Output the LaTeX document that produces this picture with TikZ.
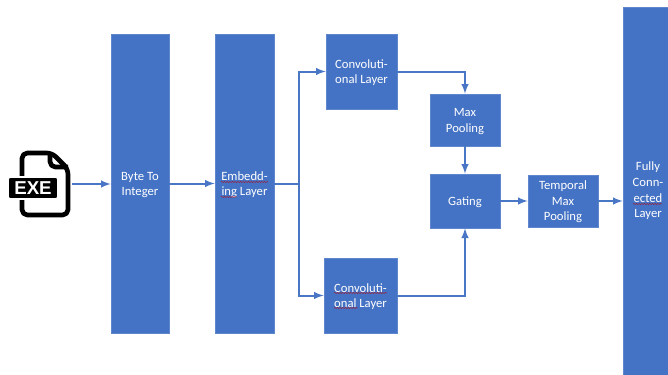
\documentclass[tikz,border=0pt]{standalone}
\usepackage{fontspec}
\setmainfont{Carlito}
\newfontfamily\iconfont{Liberation Sans}
\usetikzlibrary{decorations.pathmorphing}

\definecolor{blockblue}{HTML}{4472C4}
\definecolor{lineblue}{HTML}{4A76C6}

\newcommand{\lowtext}[1]{\raisebox{-.9pt}[\height][\depth]{\begin{tabular}{@{}c@{}}#1\end{tabular}}}

\tikzset{
    blockbox/.style = {fill = blockblue, draw = blockblue!85!white, line width = .4pt,
        inner sep = 0pt, text = white, font = \fontsize{9.5}{11.7}\selectfont},
    flowline/.style = {-latex, draw = lineblue, line width = 1.5pt},
    forkline/.style = {draw = lineblue, line width = 1.5pt},
    iconline/.style = {draw = black, line width = 3.5pt, rounded corners = 4pt, line join = round},
    spellmark/.style = {draw = red!75!black, line width = .3pt,
        decorate, decoration = {snake, amplitude = .35pt, segment length = 2pt}}
}

\begin{document}
\begin{tikzpicture}[x = .75pt, y = -.75pt]
    \useasboundingbox (0,0) rectangle (668,375);

    % file icon
    \draw [iconline] (52,153) -- (22,153) -- (22,215) -- (68,215) -- (68,169) -- cycle;
    \draw [iconline] (50,153) -- (50,167) -- (68,167);
    \node [fill = black, draw = white, line width = 1.2pt, rounded corners = 2pt, inner sep = 0pt,
        minimum width = 37.5pt, minimum height = 16.5pt, text = white,
        font = \iconfont\bfseries\fontsize{14}{14}\selectfont] (exe) at (33,188) {EXE};
    \coordinate (exeout) at (72,184);

    % blocks
    \node [blockbox, minimum width = 43.5pt, minimum height = 224.25pt] (byte) at (140,183.5) {\lowtext{Byte To\\Integer}};
    \node [blockbox, minimum width = 44.25pt, minimum height = 224.25pt] (embed) at (244.5,183.5) {\lowtext{Embedd-\\ing Layer}};
    \node [blockbox, minimum width = 53.25pt, minimum height = 56.25pt] (convtop) at (361.5,71.5) {\lowtext{Convoluti-\\onal Layer}};
    \node [blockbox, minimum width = 54.75pt, minimum height = 56.25pt] (convbot) at (360.5,295.5) {\lowtext{Convoluti-\\onal Layer}};
    \node [blockbox, minimum width = 52.5pt, minimum height = 39pt] (maxpool) at (465,120) {\lowtext{Max\\Pooling}};
    \node [blockbox, minimum width = 52.5pt, minimum height = 40.5pt] (gating) at (465,201) {\lowtext{Gating}};
    \node [blockbox, minimum width = 52.5pt, minimum height = 39pt] (temporal) at (563,201) {\lowtext{Temporal\\Max\\Pooling}};
    \node [blockbox, minimum width = 33.75pt, minimum height = 276pt] (fully) at (645.5,191) {};
    \node [align = center, text = white, inner sep = 0pt, font = \fontsize{9.5}{11.7}\selectfont] (fullytext) at (648,191) {Fully\\Conn-\\ected\\Layer};

    % spell check marks
    \draw [spellmark] (221,182) -- (268,182);
    \draw [spellmark] (221,197) -- (237,197);
    \draw [spellmark] (334,293) -- (387,293);
    \draw [spellmark] (334,308) -- (358,308);
    \draw [spellmark] (633,204) -- (662,204);

    % connectors
    \coordinate (fork) at (299,183.5);
    \draw [flowline] (exeout) -- (exeout -| byte.west);
    \draw [flowline] (byte) -- (embed);
    \draw [forkline] (embed.east) -- (fork);
    \draw [flowline] (fork) |- (convtop.west);
    \draw [flowline] (fork) |- (convbot.west);
    \draw [flowline] (convtop.east) -| (maxpool.north);
    \draw [flowline] (maxpool) -- (gating);
    \draw [flowline] (convbot.east) -| (gating.south);
    \draw [flowline] (gating) -- (temporal);
    \draw [flowline] (temporal.east) -- (temporal.east -| fully.west);
\end{tikzpicture}
\end{document}
